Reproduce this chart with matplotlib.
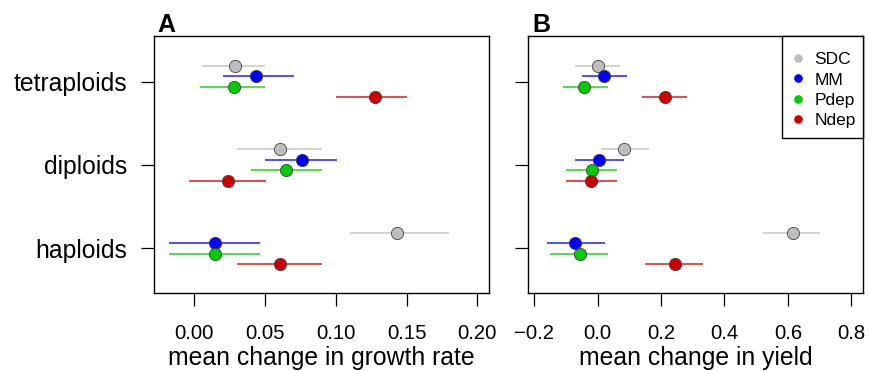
import matplotlib
matplotlib.use("Agg")
import matplotlib.pyplot as plt
from matplotlib.lines import Line2D
from matplotlib.patches import Rectangle
import numpy as np

plt.rcParams['font.family'] = ['Liberation Sans', 'DejaVu Sans']

ploidy = ["tetraploids", "diploids", "haploids"]
ploidy_pos = [3, 2, 1]
treatments = ["SDC", "MM", "Pdep", "Ndep"]
colors = ["#BEBEBE", "#0000FF", "#00CD00", "#CD0000"]
offsets = [0.1875, 0.0625, -0.0625, -0.1875]

# Panel A: growth rate (rows = treatments, cols = tetraploids, diploids, haploids)
growth_mean = [[0.029, 0.0606, 0.1435],
               [0.0438, 0.0761, 0.0144],
               [0.028, 0.0646, 0.0144],
               [0.1277, 0.0236, 0.0606]]
growth_lo = [[0.0052, 0.030, 0.110],
             [0.020, 0.050, -0.018],
             [0.004, 0.040, -0.018],
             [0.100, -0.004, 0.030]]
growth_hi = [[0.050, 0.0905, 0.180],
             [0.0705, 0.1006, 0.0465],
             [0.050, 0.0905, 0.0465],
             [0.1503, 0.0505, 0.0905]]

# Panel B: yield
yield_mean = [[0.0, 0.084, 0.615],
              [0.021, 0.005, -0.071],
              [-0.042, -0.019, -0.056],
              [0.212, -0.020, 0.244]]
yield_lo = [[-0.071, 0.0095, 0.520],
            [-0.050, -0.071, -0.160],
            [-0.110, -0.100, -0.150],
            [0.140, -0.100, 0.150]]
yield_hi = [[0.071, 0.161, 0.701],
            [0.092, 0.084, 0.022],
            [0.0325, 0.061, 0.0325],
            [0.282, 0.061, 0.331]]

growth_ticks = [0.00, 0.05, 0.10, 0.15, 0.20]
growth_ticklabels = ["0.00", "0.05", "0.10", "0.15", "0.20"]
yield_ticks = [-0.2, 0.0, 0.2, 0.4, 0.6, 0.8]
yield_ticklabels = ["\u22120.2", "0.0", "0.2", "0.4", "0.6", "0.8"]

W, H = 869, 371
fig = plt.figure(figsize=(W / 100, H / 100), dpi=100)
axA = fig.add_axes([154 / W, (H - 293.3) / H, 335 / W, 257.6 / H])
axB = fig.add_axes([528.3 / W, (H - 293.3) / H, 335 / W, 257.6 / H])


def draw(ax, mean, lo, hi):
    for i in range(len(treatments)):
        ys = np.array(ploidy_pos) + offsets[i]
        ax.hlines(ys, lo[i], hi[i], colors=colors[i], lw=1.3, alpha=0.75, zorder=2)
        ax.plot(mean[i], ys, 'o', ms=8.8, mfc=colors[i], mec='#404040', mew=0.6,
                zorder=3, ls='none')
    ax.set_ylim(0.46, 3.552)
    ax.set_yticks(ploidy_pos)
    for s in ax.spines.values():
        s.set_linewidth(1.0)
    ax.tick_params(direction='out', length=9.4, width=0.9, colors='black')
    ax.tick_params(axis='x', pad=12.5, labelsize=14.6)
    ax.tick_params(axis='y', pad=10, labelsize=17.8)


draw(axA, growth_mean, growth_lo, growth_hi)
axA.set_xlim(-0.0285, 0.2083)
axA.set_xticks(growth_ticks)
axA.set_xticklabels(growth_ticklabels)
axA.set_yticklabels(ploidy)
axA.set_xlabel("mean change in growth rate", fontsize=17.8)
axA.xaxis.set_label_coords(0.5, -0.205)
axA.text(0.009, 1.0155, "A", transform=axA.transAxes, fontsize=18,
         fontweight='bold', va='baseline', ha='left')

draw(axB, yield_mean, yield_lo, yield_hi)
axB.set_xlim(-0.219, 0.838)
axB.set_xticks(yield_ticks)
axB.set_xticklabels(yield_ticklabels)
axB.set_yticklabels([])
axB.set_xlabel("mean change in yield", fontsize=17.8)
axB.xaxis.set_label_coords(0.5, -0.205)
axB.text(0.013, 1.0155, "B", transform=axB.transAxes, fontsize=18,
         fontweight='bold', va='baseline', ha='left')

# legend frame
axB.add_patch(Rectangle((0.758, 0.604), 0.242, 0.396, transform=axB.transAxes,
                        facecolor='white', edgecolor='black', lw=1.0, zorder=5,
                        clip_on=False))
handles = [Line2D([0], [0], marker='o', ls='none', ms=6.2, mfc=c, mec=c, mew=0)
           for c in colors]
leg = axB.legend(handles, treatments, loc='upper left', bbox_to_anchor=(0.7922, 0.9367),
                 borderaxespad=0, fontsize=12.5, frameon=False, borderpad=0,
                 handlelength=0.47, handletextpad=0.72, labelspacing=0.30)
leg.set_zorder(6)

fig.savefig("out.png", dpi=100)
